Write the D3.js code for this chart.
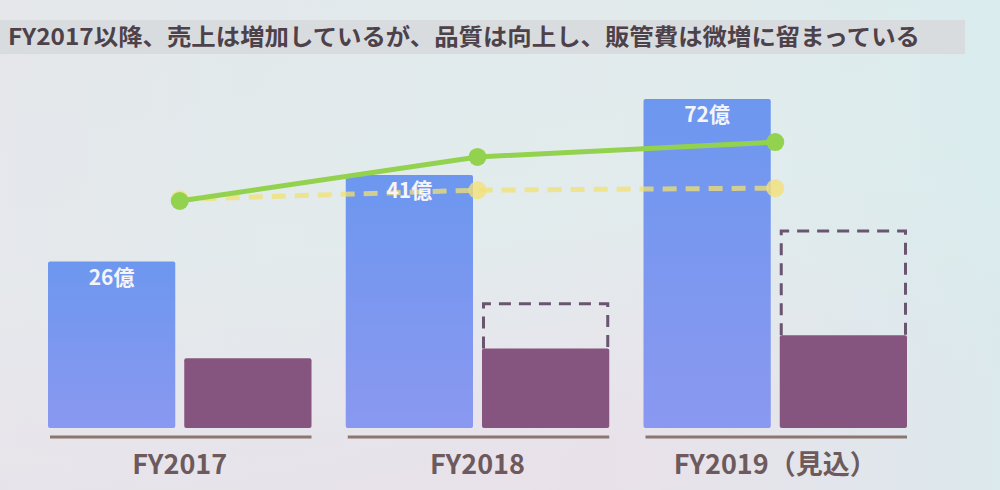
<!DOCTYPE html>
<html>
<head>
<meta charset="utf-8">
<script src="https://cdn.jsdelivr.net/npm/d3@7"></script>
<style>
  body { margin: 0; background: #e4e8ea; }
  svg { display: block; }
</style>
</head>
<body>
<svg id="svg"></svg>
<script>
// values (no axis on it, so bar heights are on an index where the tallest bar = 100)
const years = ["FY2017", "FY2018", "FY2019（見込）"];
const salesLevel = [50.6, 76.9, 100];
const salesLabels = ["26億", "41億", "72億"];
const sgaLevel = [21.2, 24.2, 28.2];
const sgaProjected = [null, 38.2, 60.3];   // dashed outline boxes
const qualityLevel = [69.0, 82.4, 86.9];   // green line
const baseLevel = [69.5, 72.3, 72.9];      // yellow dashed line
const title = "FY2017以降、売上は増加しているが、品質は向上し、販管費は微増に留まっている";

const width = 1000;
const height = 490;

let svg = d3.select("#svg")
    .attr("width", width)
    .attr("height", height);

// background of the projected slide
let defs = svg.append("defs");
let bg = defs.append("linearGradient")
    .attr("id", "bg")
    .attr("x1", 0).attr("y1", 0).attr("x2", 0.3).attr("y2", 1);
bg.append("stop").attr("offset", "0%").attr("stop-color", "#e2e9eb");
bg.append("stop").attr("offset", "55%").attr("stop-color", "#e3eced");
bg.append("stop").attr("offset", "100%").attr("stop-color", "#e9e1ea");

let bg2 = defs.append("linearGradient")
    .attr("id", "bg2")
    .attr("x1", 0).attr("y1", 0).attr("x2", 1).attr("y2", 0);
bg2.append("stop").attr("offset", "0%").attr("stop-color", "#e8e4ea").attr("stop-opacity", 0.5);
bg2.append("stop").attr("offset", "60%").attr("stop-color", "#dcecec").attr("stop-opacity", 0);
bg2.append("stop").attr("offset", "100%").attr("stop-color", "#d6ecee").attr("stop-opacity", 0.7);

let blueGrad = defs.append("linearGradient")
    .attr("id", "blue")
    .attr("x1", 0).attr("y1", 0).attr("x2", 0).attr("y2", 1);
blueGrad.append("stop").attr("offset", "0%").attr("stop-color", "#6d97ef");
blueGrad.append("stop").attr("offset", "100%").attr("stop-color", "#8a98f0");

svg.append("rect").attr("width", width).attr("height", height).attr("fill", "url(#bg)");
svg.append("rect").attr("width", width).attr("height", height).attr("fill", "url(#bg2)");

// title band
svg.append("rect")
    .attr("x", 0).attr("y", 20)
    .attr("width", 965).attr("height", 34)
    .attr("fill", "#d9dcdf");

svg.append("text")
    .attr("x", 8)
    .attr("y", 45)
    .attr("textLength", 912)
    .attr("lengthAdjust", "spacingAndGlyphs")
    .style("font-family", "'Noto Sans CJK JP', 'Noto Sans', sans-serif")
    .style("font-weight", 700)
    .style("font-size", "23px")
    .style("fill", "#4d424a")
    .text(title);

// scales
let xScale = d3.scaleBand()
    .domain(years)
    .range([48, 907])
    .paddingInner(0.115)
    .paddingOuter(0);

let subScale = d3.scaleBand()
    .domain(["sales", "sga"])
    .range([0, xScale.bandwidth()])
    .paddingInner(0.066);

let yScale = d3.scaleLinear()
    .domain([0, 100])
    .range([428, 99]);

let chart = svg.append("g");

let groups = chart.selectAll(".year")
    .data(years)
    .join("g")
    .attr("class", "year")
    .attr("transform", d => `translate(${xScale(d)},0)`);

// dashed outline (projected SG&A), open at the bottom where the real bar sits
groups.filter((d, i) => sgaProjected[i] != null)
    .append("path")
    .attr("d", d => {
        let i = years.indexOf(d);
        let x0 = subScale("sga") + 1.5;
        let x1 = subScale("sga") + subScale.bandwidth() - 1.5;
        let yTop = yScale(sgaProjected[i]) + 1.5;
        let yBot = yScale(sgaLevel[i]);
        return `M${x0},${yBot}V${yTop}H${x1}V${yBot}`;
    })
    .attr("fill", "none")
    .attr("stroke", "#6a5570")
    .attr("stroke-width", 3)
    .attr("stroke-dasharray", "12,8");

// sales bars
groups.append("rect")
    .attr("x", subScale("sales"))
    .attr("y", (d, i) => yScale(salesLevel[i]))
    .attr("width", subScale.bandwidth())
    .attr("height", (d, i) => yScale(0) - yScale(salesLevel[i]))
    .attr("rx", 2)
    .attr("fill", "url(#blue)");

// SG&A bars
groups.append("rect")
    .attr("x", subScale("sga"))
    .attr("y", (d, i) => yScale(sgaLevel[i]))
    .attr("width", subScale.bandwidth())
    .attr("height", (d, i) => yScale(0) - yScale(sgaLevel[i]))
    .attr("rx", 2)
    .attr("fill", "#86557f");

// underline under each year
groups.append("line")
    .attr("x1", 2)
    .attr("x2", xScale.bandwidth())
    .attr("y1", yScale(0) + 9)
    .attr("y2", yScale(0) + 9)
    .attr("stroke", "#8c766e")
    .attr("stroke-width", 3);

// year labels
groups.append("text")
    .attr("x", xScale.bandwidth() / 2)
    .attr("y", 474)
    .attr("text-anchor", "middle")
    .style("font-family", "'Noto Sans CJK JP', 'Noto Sans', sans-serif")
    .style("font-weight", 700)
    .style("font-size", "27px")
    .style("fill", "#6e5a5c")
    .text(d => d);

// lines
let cx = d => xScale(d) + xScale.bandwidth() / 2;

let line = d3.line()
    .x(d => cx(d.year))
    .y(d => yScale(d.value));

let basePts = years.map((y, i) => ({ year: y, value: baseLevel[i] }));
let qualityPts = years.map((y, i) => ({ year: y, value: qualityLevel[i] }));

chart.append("path")
    .datum(basePts)
    .attr("d", line)
    .attr("fill", "none")
    .attr("stroke", "#f1e070")
    .attr("stroke-opacity", 0.75)
    .attr("stroke-width", 5)
    .attr("stroke-dasharray", "14,9");

chart.selectAll(".base-dot")
    .data(basePts)
    .join("circle")
    .attr("class", "base-dot")
    .attr("cx", d => cx(d.year))
    .attr("cy", d => yScale(d.value))
    .attr("r", 9)
    .attr("fill", "#f2e17a")
    .attr("fill-opacity", 0.8);

chart.append("path")
    .datum(qualityPts)
    .attr("d", line)
    .attr("fill", "none")
    .attr("stroke", "#93d24e")
    .attr("stroke-width", 5);

chart.selectAll(".quality-dot")
    .data(qualityPts)
    .join("circle")
    .attr("class", "quality-dot")
    .attr("cx", d => cx(d.year))
    .attr("cy", d => yScale(d.value))
    .attr("r", 9)
    .attr("fill", "#93d24e");

// value labels on sales bars, drawn last so they sit over the lines
chart.selectAll(".value-label")
    .data(years)
    .join("text")
    .attr("class", "value-label")
    .attr("x", d => xScale(d) + subScale("sales") + subScale.bandwidth() / 2)
    .attr("y", (d, i) => yScale(salesLevel[i]) + 23)
    .attr("text-anchor", "middle")
    .style("font-family", "'Noto Sans CJK JP', 'Noto Sans', sans-serif")
    .style("font-weight", 700)
    .style("font-size", "21px")
    .style("fill", "#f4f4fa")
    .text((d, i) => salesLabels[i]);
</script>
</body>
</html>
